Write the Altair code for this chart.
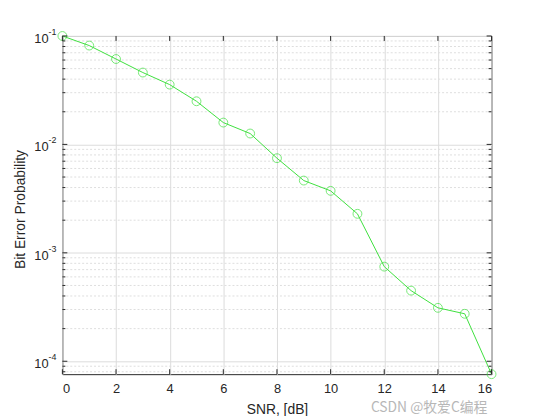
import altair as alt
import pandas as pd

# data
snr_db = list(range(0, 17))
ber = [0.1, 0.0816, 0.0613, 0.046, 0.0356, 0.025, 0.0159, 0.0126, 0.00746,
       0.00464, 0.00373, 0.00229, 0.000746, 0.000448, 0.000311, 0.000274, 0.000076]

x_ticks = [0, 2, 4, 6, 8, 10, 12, 14, 16]
y_decades = [1e-1, 1e-2, 1e-3, 1e-4]
y_exponents = ["-1", "-2", "-3", "-4"]
y_minor = [m * 10.0 ** k for k in range(-5, -1) for m in range(2, 10)]
y_minor = [v for v in y_minor if 7.6e-5 <= v <= 0.1]

W, H = 434, 342
FONT = "Liberation Sans"
GREEN = "#3ee03e"
TXT = "#262626"

df = pd.DataFrame({"snr": snr_db, "ber": ber})
xt = pd.DataFrame({"snr": x_ticks})
yd = pd.DataFrame({"ber": y_decades, "exp": y_exponents, "base": ["10"] * 4})
ym = pd.DataFrame({"ber": y_minor})

xs = alt.Scale(domain=[0, 16], nice=False, zero=False)
ys = alt.Scale(type="log", domain=[7.6e-5, 0.1], nice=False)

X_AX = alt.Axis(values=x_ticks, grid=True, gridColor="#dcdcdc", ticks=False,
                domain=False, labelFont=FONT, labelFontSize=13, labelColor=TXT,
                labelPadding=9, title="SNR, [dB]", titleFont=FONT, titleFontSize=14,
                titleFontWeight="normal", titleColor=TXT,
                titleX=W / 2, titleY=29, titleBaseline="top")
Y_AX = alt.Axis(values=y_decades, grid=True, gridColor="#dcdcdc", ticks=False,
                domain=False, labels=False, title="Bit Error Probability",
                titleFont=FONT, titleFontSize=14, titleFontWeight="normal",
                titleColor=TXT, titleX=-42, titleY=H / 2 + 4, titleAngle=270,
                titleAlign="center", titleBaseline="middle")


def X():
    return alt.X("snr:Q", scale=xs, axis=X_AX)


def Y():
    return alt.Y("ber:Q", scale=ys, axis=Y_AX)


minor_grid = alt.Chart(ym).mark_rule(color="#dedede", strokeDash=[2, 2], strokeWidth=1).encode(
    y=Y(), x=alt.value(0), x2=alt.value(W),
)

line = alt.Chart(df).mark_line(color=GREEN, strokeWidth=1).encode(x=X(), y=Y())

points = alt.Chart(df).mark_point(shape="circle", filled=False, color=GREEN, size=80,
                                  strokeWidth=1).encode(x=X(), y=Y())

xt_bottom = alt.Chart(xt).mark_rule(color=TXT).encode(
    x=X(), y=alt.value(H), y2=alt.value(H - 5))
xt_top = alt.Chart(xt).mark_rule(color=TXT).encode(
    x=X(), y=alt.value(0), y2=alt.value(5))
yt_left = alt.Chart(yd).mark_rule(color=TXT).encode(
    y=Y(), x=alt.value(0), x2=alt.value(5))
yt_right = alt.Chart(yd).mark_rule(color=TXT).encode(
    y=Y(), x=alt.value(W), x2=alt.value(W - 5))
ym_left = alt.Chart(ym).mark_rule(color=TXT).encode(
    y=Y(), x=alt.value(0), x2=alt.value(3))
ym_right = alt.Chart(ym).mark_rule(color=TXT).encode(
    y=Y(), x=alt.value(W), x2=alt.value(W - 3))

ylab_base = alt.Chart(yd).mark_text(align="right", baseline="middle", font=FONT, fontSize=13,
                                    color=TXT, dy=3).encode(
    y=Y(), x=alt.value(-14), text="base:N")
ylab_exp = alt.Chart(yd).mark_text(align="left", baseline="middle", font=FONT, fontSize=9,
                                   color=TXT, dy=-4).encode(
    y=Y(), x=alt.value(-14), text="exp:N")

watermark = alt.Chart(pd.DataFrame({"t": ["CSDN @牧爱C编程"]})).mark_text(
    align="left", baseline="middle", font="Noto Sans CJK SC", fontSize=14,
    color="#9a9a9a", opacity=0.7).encode(
    x=alt.value(312), y=alt.value(376), text="t:N")

chart = alt.layer(
    minor_grid, line, points, xt_bottom, xt_top, yt_left, yt_right, ym_left, ym_right,
    ylab_base, ylab_exp, watermark,
).properties(
    width=W, height=H,
    autosize=alt.AutoSizeParams(type="none"),
    padding={"left": 55, "top": 26, "right": 50, "bottom": 40},
    background="white",
).configure_view(stroke=TXT, strokeWidth=1)

chart.save("out.html", embed_options={"renderer": "svg", "actions": False})
